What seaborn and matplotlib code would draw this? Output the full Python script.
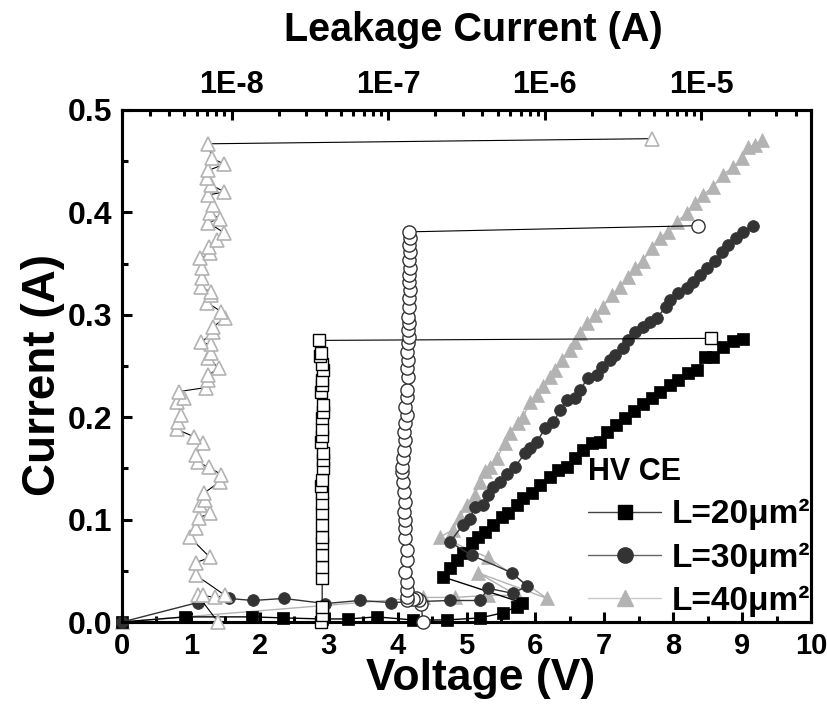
import numpy as np
import pandas as pd
import matplotlib
matplotlib.use("Agg")
import matplotlib.pyplot as plt
import seaborn as sns
from matplotlib.lines import Line2D
from matplotlib.ticker import FixedLocator, LogLocator, NullFormatter, MultipleLocator, FuncFormatter

# ---------------- data ----------------
# I-V curves (bottom axis: Voltage, left axis: Current)
v20 = [0, 0.92, 1.89, 2.34, 2.90, 3.28, 3.70, 4.22, 4.71, 5.20, 5.53, 5.73, 5.80,
       4.66, 4.76, 4.86, 4.95, 5.08, 5.17, 5.27, 5.38, 5.52, 5.60, 5.73, 5.82, 5.95,
       6.07, 6.21, 6.33, 6.46, 6.57, 6.69, 6.82, 6.94, 7.04, 7.17, 7.30, 7.43, 7.56,
       7.69, 7.81, 7.95, 8.07, 8.21, 8.35, 8.46, 8.58, 8.72, 8.87, 9.01]
i20 = [0, 0.005, 0.005, 0.004, 0.003, 0.003, 0.005, 0.002, 0.002, 0.004, 0.009, 0.015, 0.019,
       0.044, 0.053, 0.061, 0.067, 0.077, 0.083, 0.088, 0.095, 0.103, 0.106, 0.114, 0.121, 0.126,
       0.134, 0.142, 0.148, 0.151, 0.160, 0.168, 0.175, 0.176, 0.186, 0.192, 0.199, 0.206, 0.213,
       0.219, 0.225, 0.231, 0.236, 0.243, 0.246, 0.259, 0.259, 0.269, 0.274, 0.276]

v30 = [0, 1.10, 1.55, 1.90, 2.35, 2.95, 3.45, 3.90, 4.33, 4.76, 5.20, 5.31, 5.67, 5.88, 5.66, 5.08,
       4.76, 4.95, 5.05, 5.12, 5.24, 5.31, 5.38, 5.49, 5.59, 5.70, 5.85, 5.92, 6.02, 6.14, 6.26,
       6.36, 6.46, 6.57, 6.65, 6.76, 6.89, 6.97, 7.08, 7.16, 7.27, 7.34, 7.45, 7.56, 7.66, 7.76,
       7.90, 7.95, 8.07, 8.20, 8.29, 8.39, 8.49, 8.61, 8.71, 8.80, 8.91, 9.01, 9.16]
i30 = [0, 0.019, 0.023, 0.021, 0.023, 0.018, 0.021, 0.019, 0.020, 0.021, 0.021, 0.033, 0.028, 0.035, 0.048, 0.065,
       0.078, 0.095, 0.101, 0.112, 0.114, 0.124, 0.132, 0.137, 0.145, 0.151, 0.165, 0.170, 0.176, 0.189, 0.195,
       0.207, 0.217, 0.219, 0.227, 0.238, 0.241, 0.249, 0.256, 0.261, 0.268, 0.275, 0.283, 0.288, 0.293, 0.297,
       0.308, 0.314, 0.321, 0.326, 0.332, 0.339, 0.346, 0.353, 0.361, 0.368, 0.375, 0.381, 0.387]

v40 = [0, 4.37, 4.83, 5.31, 5.73, 5.17, 6.17, 5.31,
       4.62, 4.80, 4.91, 5.01, 5.12, 5.20, 5.27, 5.34, 5.44, 5.56, 5.63, 5.75, 5.82, 5.92, 6.02,
       6.11, 6.21, 6.28, 6.39, 6.50, 6.57, 6.65, 6.75, 6.87, 6.98, 7.11, 7.23, 7.34, 7.45, 7.56,
       7.69, 7.81, 7.92, 8.05, 8.20, 8.32, 8.43, 8.58, 8.72, 8.87, 9.00, 9.09, 9.19, 9.29]
i40 = [0, 0.024, 0.024, 0.026, 0.026, 0.048, 0.023, 0.063,
       0.083, 0.090, 0.103, 0.114, 0.124, 0.137, 0.147, 0.151, 0.160, 0.175, 0.185, 0.194, 0.200, 0.215, 0.222,
       0.230, 0.239, 0.246, 0.256, 0.266, 0.273, 0.282, 0.292, 0.300, 0.308, 0.319, 0.327, 0.337, 0.346, 0.353,
       0.365, 0.375, 0.381, 0.391, 0.399, 0.409, 0.417, 0.425, 0.437, 0.444, 0.453, 0.464, 0.466, 0.471]

# Leakage current (top log axis) vs Current (left axis)
leak20 = [3.74e-8, 3.79e-8, 3.79e-8, 3.79e-8, 3.79e-8, 3.79e-8, 3.79e-8, 3.79e-8, 3.79e-8, 3.79e-8,
          3.79e-8, 3.79e-8, 3.74e-8, 3.79e-8, 3.85e-8, 3.85e-8, 3.85e-8, 3.74e-8, 3.79e-8, 3.79e-8,
          3.79e-8, 3.85e-8, 3.85e-8, 3.74e-8, 3.79e-8, 3.79e-8, 3.85e-8, 3.79e-8, 3.69e-8, 3.74e-8,
          3.63e-8, 1.15e-5]
io20 = [0.000, 0.007, 0.015, 0.043, 0.054, 0.065, 0.077, 0.083, 0.095, 0.106,
        0.116, 0.126, 0.133, 0.139, 0.150, 0.158, 0.165, 0.176, 0.182, 0.188,
        0.199, 0.205, 0.212, 0.225, 0.231, 0.236, 0.246, 0.252, 0.260, 0.263,
        0.275, 0.277]

leak30 = [1.66e-7, 1.63e-7, 1.58e-7, 1.51e-7, 1.44e-7, 1.31e-7, 1.31e-7, 1.31e-7, 1.31e-7, 1.29e-7,
          1.31e-7, 1.31e-7, 1.29e-7, 1.29e-7, 1.29e-7, 1.27e-7, 1.29e-7, 1.27e-7, 1.25e-7, 1.22e-7,
          1.22e-7, 1.25e-7, 1.27e-7, 1.29e-7, 1.27e-7, 1.29e-7, 1.31e-7, 1.29e-7, 1.31e-7, 1.31e-7,
          1.33e-7, 1.31e-7, 1.33e-7, 1.31e-7, 1.33e-7, 1.35e-7, 1.33e-7, 1.35e-7, 1.33e-7, 1.35e-7,
          1.35e-7, 1.37e-7, 1.35e-7, 1.35e-7, 1.37e-7, 1.35e-7, 1.37e-7, 1.35e-7, 1.37e-7, 1.35e-7,
          9.5e-6]
io30 = [0.000, 0.018, 0.021, 0.023, 0.022, 0.021, 0.024, 0.031, 0.039, 0.049,
        0.061, 0.070, 0.082, 0.092, 0.100, 0.107, 0.117, 0.127, 0.137, 0.146,
        0.151, 0.160, 0.168, 0.178, 0.186, 0.194, 0.202, 0.210, 0.220, 0.227,
        0.239, 0.248, 0.256, 0.264, 0.272, 0.278, 0.285, 0.292, 0.298, 0.308,
        0.316, 0.324, 0.332, 0.339, 0.346, 0.354, 0.361, 0.368, 0.375, 0.381,
        0.387]

leak40 = [8.2e-9, 6.1e-9, 6.6e-9, 7.8e-9, 9.1e-9, 5.9e-9, 5.9e-9, 7.3e-9, 5.4e-9, 5.9e-9,
          6.2e-9, 7.3e-9, 6.3e-9, 6.8e-9, 6.7e-9, 8.4e-9, 8.6e-9, 7.2e-9, 6.1e-9, 5.9e-9,
          6.6e-9, 5.75e-9, 4.5e-9, 4.55e-9, 4.75e-9, 4.5e-9, 5.0e-9, 4.6e-9, 6.9e-9, 7.1e-9,
          7.1e-9, 8.3e-9, 7.1e-9, 7.4e-9, 7.4e-9, 6.4e-9, 7.6e-9, 7.6e-9, 9.1e-9, 8.6e-9,
          7.0e-9, 7.4e-9, 7.4e-9, 6.4e-9, 6.5e-9, 6.5e-9, 6.3e-9, 7.3e-9, 7.2e-9, 8.1e-9,
          9.0e-9, 7.1e-9, 8.4e-9, 7.3e-9, 7.6e-9, 7.1e-9, 9.0e-9, 7.4e-9, 7.0e-9, 7.1e-9,
          9.0e-9, 7.5e-9, 7.1e-9, 4.8e-6]
io40 = [0.000, 0.026, 0.026, 0.024, 0.026, 0.046, 0.058, 0.063, 0.083, 0.092,
        0.102, 0.106, 0.114, 0.119, 0.126, 0.137, 0.144, 0.151, 0.156, 0.163,
        0.175, 0.181, 0.188, 0.195, 0.202, 0.215, 0.219, 0.225, 0.229, 0.236,
        0.241, 0.248, 0.258, 0.263, 0.271, 0.273, 0.283, 0.288, 0.297, 0.303,
        0.312, 0.319, 0.322, 0.327, 0.336, 0.346, 0.355, 0.360, 0.366, 0.373,
        0.380, 0.390, 0.394, 0.399, 0.407, 0.417, 0.420, 0.427, 0.434, 0.441,
        0.447, 0.453, 0.467, 0.472]

labels = ["L=20\u03bcm\u00b2", "L=30\u03bcm\u00b2", "L=40\u03bcm\u00b2"]
legend_title = "HV CE"
top_ticks = [1e-8, 1e-7, 1e-6, 1e-5]

# ---------------- style ----------------
sns.set_theme(style="ticks")
plt.rcParams['font.family'] = ['Liberation Sans', 'DejaVu Sans']
plt.rcParams['font.weight'] = 'bold'
plt.rcParams['axes.linewidth'] = 2.2
for k in ("text.color", "axes.labelcolor", "xtick.color", "ytick.color", "axes.edgecolor"):
    plt.rcParams[k] = "black"

C_SQ = "#000000"
C_CI = "#333333"
C_TR = "#b3b3b3"

fig = plt.figure(figsize=(8.27, 7.13), dpi=100)
ax = fig.add_axes([122/827, 1 - 622/713, 689/827, 512/713])
ax2 = ax.twiny()
ax2.set_xscale("log")

# filled I-V curves
sns.lineplot(data=pd.DataFrame({"V": v20, "I": i20}), x="V", y="I", ax=ax, sort=False,
             estimator=None, color=C_SQ, lw=1.0, marker="s", markersize=8,
             markerfacecolor=C_SQ, markeredgecolor=C_SQ, markeredgewidth=0.5,
             clip_on=False, legend=False, zorder=3)
sns.lineplot(data=pd.DataFrame({"V": v30, "I": i30}), x="V", y="I", ax=ax, sort=False,
             estimator=None, color=C_CI, lw=1.0, marker="o", markersize=8.5,
             markerfacecolor=C_CI, markeredgecolor=C_CI, markeredgewidth=0.5,
             clip_on=False, legend=False, zorder=3)
sns.lineplot(data=pd.DataFrame({"V": v40, "I": i40}), x="V", y="I", ax=ax, sort=False,
             estimator=None, color=C_TR, lw=1.0, marker="^", markersize=9.5,
             markerfacecolor=C_TR, markeredgecolor=C_TR, markeredgewidth=0.5,
             clip_on=False, legend=False, zorder=2)

# open leakage curves
sns.lineplot(data=pd.DataFrame({"L": leak40, "I": io40}), x="L", y="I", ax=ax2, sort=False,
             estimator=None, color="black", lw=0.8, marker="^", markersize=10,
             markerfacecolor="white", markeredgecolor=C_TR, markeredgewidth=1.2,
             clip_on=False, legend=False, zorder=3)
sns.lineplot(data=pd.DataFrame({"L": leak20, "I": io20}), x="L", y="I", ax=ax2, sort=False,
             estimator=None, color="black", lw=0.8, marker="s", markersize=8,
             markerfacecolor="white", markeredgecolor="black", markeredgewidth=1.0,
             clip_on=False, legend=False, zorder=3)
sns.lineplot(data=pd.DataFrame({"L": leak30, "I": io30}), x="L", y="I", ax=ax2, sort=False,
             estimator=None, color="black", lw=0.8, marker="o", markersize=9.5,
             markerfacecolor="white", markeredgecolor=C_CI, markeredgewidth=1.0,
             clip_on=False, legend=False, zorder=3)

# ---------------- axes ----------------
ax.set_xlim(0, 10)
ax.set_ylim(0, 0.5)
ax2.set_xlim(2e-9, 5e-5)
ax2.set_ylim(0, 0.5)

ax.xaxis.set_major_locator(MultipleLocator(1))
ax.xaxis.set_minor_locator(MultipleLocator(0.5))
ax.yaxis.set_major_locator(MultipleLocator(0.1))
ax.yaxis.set_minor_locator(MultipleLocator(0.05))
ax.xaxis.set_major_formatter(FuncFormatter(lambda v, p: f"{int(round(v))}"))
ax.yaxis.set_major_formatter(FuncFormatter(lambda v, p: f"{v:.1f}"))

ax.tick_params(axis="both", which="major", direction="in", length=7, width=2.2, pad=7)
ax.tick_params(axis="both", which="minor", direction="in", length=4, width=2.2)
ax.tick_params(axis="x", which="major", labelsize=21)
ax.tick_params(axis="y", which="major", labelsize=23)
ax.tick_params(axis="x", which="both", top=False, bottom=True)
ax.tick_params(axis="y", which="both", left=True, right=False)

ax2.xaxis.set_major_locator(FixedLocator(top_ticks))
ax2.xaxis.set_minor_locator(LogLocator(base=10, subs=np.arange(2, 10)))
ax2.xaxis.set_minor_formatter(NullFormatter())
ax2.xaxis.set_major_formatter(FuncFormatter(lambda v, p: f"1E{int(round(np.log10(v)))}"))
ax2.tick_params(axis="x", which="major", direction="in", length=7, width=2.2,
                labelsize=22, pad=7, top=True, bottom=False)
ax2.tick_params(axis="x", which="minor", direction="in", length=4, width=2.2,
                top=True, bottom=False)
ax2.tick_params(axis="y", which="both", left=False, right=False, labelleft=False, labelright=False)

for a in (ax, ax2):
    for s in a.spines.values():
        s.set_linewidth(2.2)
        s.set_color("black")
    for lab in a.get_xticklabels() + a.get_yticklabels():
        lab.set_fontweight("bold")

ax.set_xlabel("Voltage (V)", fontsize=32, fontweight="bold", labelpad=-1)
ax.xaxis.label.set_x((481 - 122) / 689)
ax.set_ylabel("Current (A)", fontsize=33, fontweight="bold", labelpad=2)
ax.yaxis.label.set_y((622 - 375) / 512)
ax2.set_xlabel("Leakage Current (A)", fontsize=28.5, fontweight="bold", labelpad=21)
ax2.xaxis.label.set_x((473 - 122) / 689)

# ---------------- legend ----------------
handles = [
    Line2D([], [], color="#444444", lw=1.0, marker="s", markersize=10,
           markerfacecolor=C_SQ, markeredgecolor=C_SQ),
    Line2D([], [], color="#666666", lw=1.0, marker="o", markersize=11,
           markerfacecolor=C_CI, markeredgecolor=C_CI),
    Line2D([], [], color="#c8c8c8", lw=1.0, marker="^", markersize=12,
           markerfacecolor=C_TR, markeredgecolor=C_TR),
]
leg = ax2.legend(handles, labels, title=legend_title, loc="upper left",
                 bbox_to_anchor=((588 - 122) / 689, (622 - 457) / 512),
                 frameon=False, fontsize=24, title_fontproperties={"weight": "bold", "size": 22},
                 handlelength=2.2, handletextpad=0.3, labelspacing=0.36,
                 borderpad=0, borderaxespad=0, alignment="left")
for t in leg.get_texts():
    t.set_fontweight("bold")

fig.savefig("out.png", dpi=100)
